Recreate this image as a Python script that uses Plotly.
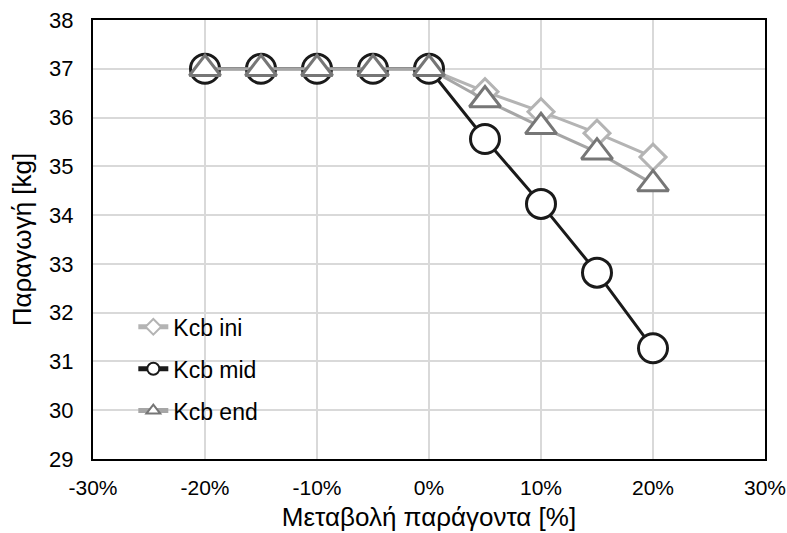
import plotly.graph_objects as go

x_vals = [-0.20, -0.15, -0.10, -0.05, 0.0, 0.05, 0.10, 0.15, 0.20]
kcb_ini = [37, 37, 37, 37, 37, 36.53, 36.12, 35.68, 35.19]
kcb_mid = [37, 37, 37, 37, 37, 35.56, 34.23, 32.82, 31.27]
kcb_end = [37, 37, 37, 37, 37, 36.36, 35.81, 35.29, 34.64]

x_tickvals = [-0.3, -0.2, -0.1, 0.0, 0.1, 0.2, 0.3]
x_ticktext = ["-30%", "-20%", "-10%", "0%", "10%", "20%", "30%"]

fig = go.Figure()
fig.add_trace(go.Scatter(
    x=x_vals, y=kcb_ini, name="Kcb ini", mode="lines+markers", legendgroup="a",
    line=dict(color="#b4b4b4", width=3),
    marker=dict(symbol="diamond", size=20, color="white",
                line=dict(color="#b4b4b4", width=3)),
))
fig.add_trace(go.Scatter(
    x=x_vals, y=kcb_mid, name="Kcb mid", mode="lines+markers", legendgroup="b",
    line=dict(color="#1a1a1a", width=3),
    marker=dict(symbol="circle", size=29, color="white",
                line=dict(color="#1a1a1a", width=3)),
))
fig.add_trace(go.Scatter(
    x=x_vals, y=kcb_end, name="Kcb end", mode="lines+markers", legendgroup="c",
    line=dict(color="#a6a6a6", width=3),
    marker=dict(symbol="triangle-up", size=27, color="white",
                line=dict(color="#767676", width=3)),
))

fig.update_layout(
    width=787, height=533,
    margin=dict(l=93, r=22, t=20, b=74),
    paper_bgcolor="white", plot_bgcolor="white",
    font=dict(family="Liberation Sans, Arial, sans-serif", size=21, color="#000000"),
    xaxis=dict(
        range=[-0.3, 0.3], tickvals=x_tickvals, ticktext=x_ticktext,
        showgrid=True, gridcolor="#d9d9d9", gridwidth=2,
        showline=True, linecolor="black", linewidth=2, mirror=True,
        zeroline=False, ticks="", tickfont=dict(size=21), ticklabelstandoff=9,
        ticklabeloverflow="allow",
        automargin=False,
        title=dict(text="Μεταβολή παράγοντα [%]", font=dict(size=26), standoff=10),
    ),
    yaxis=dict(
        range=[29, 38], dtick=1,
        showgrid=True, gridcolor="#d9d9d9", gridwidth=2,
        showline=True, linecolor="black", linewidth=2, mirror=True,
        zeroline=False, ticks="", tickfont=dict(size=22), ticklabelstandoff=13,
        automargin=False,
        title=dict(text="Παραγωγή [kg]", font=dict(size=26), standoff=10),
    ),
    legend=dict(
        x=0.06, y=0.35, xanchor="left", yanchor="top",
        bgcolor="rgba(255,255,255,0)", font=dict(size=23),
        itemsizing="constant", tracegroupgap=9,
    ),
    showlegend=True,
)

fig.write_html("out.html")
